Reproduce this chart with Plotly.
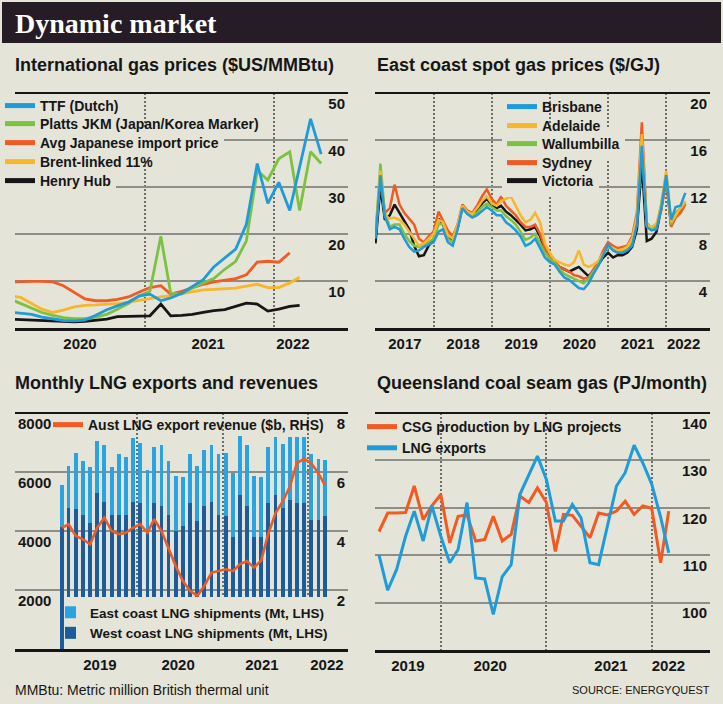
import pandas as pd
import plotly.graph_objects as go

W, H = 723, 704

BG = "#e4e4d8"
HEAD_BG = "#251c25"
GRID = "#8e8e89"
DOTS = "#6f6f6c"
INK = "#161616"
BLUE = "#1e9bd8"
GREEN = "#7dc143"
RED = "#f05a23"
YELLOW = "#f8b62b"
BLACK = "#161616"
EAST_C = "#2aa4e0"
WEST_C = "#1b5c9c"

NARROW = "Liberation Sans Narrow, Arial Narrow, Liberation Sans, sans-serif"
SANS = "Liberation Sans, Arial, sans-serif"
SERIF = "Liberation Serif, Times New Roman, serif"

# ---------------- Panel 1: International gas prices ($US/MMBtu) ----------------
intl_dates = pd.date_range("2019-12-01", "2022-05-01", freq="MS") + pd.Timedelta(days=14)
ttf = [3.4, 3.2, 2.9, 2.3, 1.9, 1.6, 1.5, 1.7, 2.7, 3.9, 4.7, 5.5, 6.8,
       7.2, 5.8, 6.4, 7.4, 8.8, 10.3, 13.0, 15.0, 16.8, 22.0, 35.0, 26.5,
       31.0, 25.0, 34.0, 44.5, 37.0]
jkm = [6.2, 5.2, 4.3, 3.3, 2.7, 2.2, 2.0, 2.0, 2.3, 2.9, 4.0, 5.2, 6.8,
       7.8, 19.5, 7.4, 7.2, 8.5, 9.6, 10.5, 12.5, 14.2, 18.5, 33.5, 31.5,
       36.0, 37.5, 25.0, 37.5, 35.0]
japan_import = [9.8, 9.9, 9.9, 9.9, 9.8, 9.0, 7.6, 6.2, 5.8, 5.8, 6.1, 6.6, 7.6,
                8.6, 9.0, 7.2, 7.8, 8.6, 9.3, 9.8, 10.2, 10.5, 11.3, 14.0, 14.2,
                14.0, 16.0]
brent_linked = [6.9, 6.5, 5.2, 4.0, 3.3, 3.8, 4.5, 4.8, 4.9, 5.0, 5.2, 5.5, 5.9,
                6.3, 6.6, 6.9, 7.3, 7.8, 8.1, 8.2, 8.3, 8.5, 8.9, 9.3, 8.6,
                8.6, 9.6, 10.8]
henry_hub = [1.9, 1.8, 1.7, 1.6, 1.5, 1.3, 1.3, 1.4, 1.6, 1.9, 2.4, 2.5, 2.6,
             2.6, 5.1, 2.6, 2.7, 2.9, 3.3, 3.7, 3.9, 4.6, 5.3, 5.1, 3.6,
             4.0, 4.6, 4.8]
intl_year_lines = ["2020-01-01", "2021-01-01", "2022-01-01"]
intl_label_pos = ["2020-07-01", "2021-06-29", "2022-02-24"]
intl_labels = ["2020", "2021", "2022"]
intl_yticks = [10, 20, 30, 40, 50]

# ---------------- Panel 2: East coast spot gas prices ($/GJ) ----------------
spot_dates = pd.date_range("2017-01-01", "2022-05-01", freq="MS")
brisbane = [7.6, 13.0, 9.5, 8.4, 8.6, 8.4, 7.6, 6.9, 6.5, 6.6, 6.9, 7.1,
            7.3, 8.2, 8.4, 7.3, 7.0, 8.4, 10.2, 9.7, 9.4, 9.6, 10.0, 10.3,
            10.0, 9.6, 9.6, 9.0, 8.7, 8.3, 7.8, 7.0, 7.2, 7.6, 6.8, 6.0,
            5.6, 5.4, 4.8, 4.3, 4.1, 3.7, 3.4, 3.3, 3.8, 4.6, 5.3, 6.2,
            7.1, 6.6, 6.4, 6.4, 6.6, 7.0, 8.8, 15.5, 8.6, 8.3, 8.4, 10.2,
            13.0, 9.2, 10.3, 10.4, 11.5]
adelaide = [8.0, 13.4, 9.6, 9.3, 9.4, 9.2, 8.8, 8.2, 7.6, 7.0, 7.2, 7.6,
            8.0, 9.2, 9.0, 7.9, 7.6, 8.8, 10.4, 9.9, 9.7, 10.2, 10.8, 11.2,
            10.6, 10.4, 10.8, 11.0, 11.2, 10.4, 9.6, 9.0, 9.2, 9.8, 9.0, 7.2,
            6.4, 5.8, 5.6, 5.4, 5.3, 5.6, 6.6, 5.4, 5.2, 5.4, 5.7, 6.4,
            7.0, 6.8, 6.6, 6.7, 6.9, 7.6, 9.5, 16.5, 8.8, 8.6, 8.9, 10.4,
            13.4, 9.0, 9.6, 10.2, 10.8]
wallumbilla = [7.8, 14.0, 9.8, 8.6, 8.8, 8.8, 8.0, 7.4, 7.0, 6.9, 7.1, 7.3,
               7.6, 8.8, 8.9, 7.6, 7.3, 8.6, 10.3, 9.8, 9.6, 9.8, 10.3, 10.6,
               10.3, 10.0, 10.0, 9.5, 9.2, 8.8, 8.2, 7.5, 7.7, 8.0, 7.2, 6.4,
               5.9, 5.6, 5.0, 4.6, 4.4, 4.2, 4.0, 3.8, 4.2, 4.8, 5.4, 6.3,
               6.9, 6.7, 6.5, 6.6, 6.8, 7.3, 9.0, 15.8, 8.7, 8.4, 8.6, 10.6,
               13.2, 8.8, 9.8, 10.2, 10.6]
sydney = [7.9, 12.8, 9.8, 10.2, 12.2, 10.5, 9.8, 9.3, 8.8, 7.6, 7.3, 7.8,
          8.2, 9.9, 9.2, 8.3, 7.8, 8.8, 10.5, 10.0, 9.8, 10.4, 11.2, 11.8,
          11.0, 10.5, 11.2, 10.4, 10.0, 9.6, 9.0, 8.6, 8.6, 8.8, 8.0, 6.8,
          6.0, 5.7, 5.2, 5.0, 4.8, 4.5, 4.4, 4.2, 4.3, 5.0, 5.6, 6.6,
          7.3, 7.0, 6.8, 6.9, 7.0, 7.8, 9.8, 17.5, 8.9, 8.5, 8.7, 10.0,
          12.6, 8.6, 9.4, 9.8, 10.5]
victoria = [7.2, 12.0, 9.2, 9.6, 10.5, 9.8, 9.2, 8.4, 7.0, 6.1, 6.2, 7.0,
            7.5, 9.3, 8.8, 7.8, 7.4, 8.5, 10.3, 9.8, 9.6, 10.0, 10.6, 11.0,
            10.5, 10.2, 10.4, 9.9, 9.6, 9.2, 8.8, 8.3, 8.4, 8.6, 7.8, 6.6,
            5.9, 5.6, 5.2, 5.0, 4.8, 5.0, 5.2, 4.8, 4.4, 4.9, 5.4, 6.0,
            6.4, 6.0, 6.2, 6.2, 6.4, 6.9, 8.4, 14.0, 7.4, 7.6, 8.2, 10.2,
            12.8, 8.7, 9.6, 10.0, 10.6]
spot_year_lines = ["2017-01-01", "2018-01-01", "2019-01-01", "2020-01-01",
                   "2021-01-01", "2022-01-01"]
spot_label_pos = ["2017-07-05", "2018-07-05", "2019-07-05", "2020-07-05",
                  "2021-07-05", "2022-04-20"]
spot_labels = ["2017", "2018", "2019", "2020", "2021", "2022"]
spot_yticks = [4, 8, 12, 16, 20]

# ---------------- Panel 3: Monthly LNG exports and revenues ----------------
lng_dates = pd.date_range("2019-02-01", "2022-03-01", freq="MS") + pd.Timedelta(days=14)
west_coast = [4150, 4780, 4750, 4550, 4270, 5290, 5000, 4550, 4550, 4550,
              5000, 4950, 4040, 4950, 4840, 4550, 3990, 4160, 4950, 4330,
              4840, 5000, 4550, 4500, 3800, 5230, 4840, 3800, 3800, 4950,
              5230, 4780, 5060, 4950, 4950, 4380, 4380, 4500]
east_coast = [1420, 1440, 1900, 1810, 1900, 1750, 1900, 1620, 2060, 1960,
              2160, 2040, 2020, 1890, 2090, 1810, 1870, 1670, 1660, 1860,
              1920, 1930, 2050, 2130, 2180, 1980, 2070, 2050, 2040, 1890,
              1970, 2180, 2140, 2230, 2230, 2220, 2050, 1910]
lng_revenue = [4.11, 4.23, 3.83, 3.72, 3.55, 4.11, 4.45, 4.00, 3.89, 3.94,
               4.11, 4.23, 3.94, 4.40, 4.00, 3.43, 2.81, 2.31, 1.97, 1.80,
               2.14, 2.59, 2.64, 2.70, 2.64, 2.87, 2.98, 2.76, 3.00, 3.90,
               4.60, 5.00, 5.50, 6.30, 6.45, 6.30, 5.95, 5.55]
lng_year_lines = ["2020-01-01", "2021-01-01", "2022-01-01"]
lng_label_pos = ["2019-07-27", "2020-06-25", "2021-06-18", "2022-03-23"]
lng_labels = ["2019", "2020", "2021", "2022"]
lng_left_ticks = [2000, 4000, 6000, 8000]
lng_right_ticks = [2, 4, 6, 8]

# ---------------- Panel 4: Queensland coal seam gas (PJ/month) ----------------
csg_dates = pd.date_range("2019-06-01", "2022-03-01", freq="MS")
csg_production = [115.0, 118.9, 118.9, 119.0, 124.6, 117.5, 120.4, 122.8, 112.6, 118.2,
                  118.5, 113.0, 113.3, 118.2, 113.0, 114.4, 122.5, 121.1, 124.2, 121.1,
                  110.8, 118.6, 118.4, 116.0, 113.7, 118.9, 118.5, 119.3, 121.4, 118.6,
                  120.4, 119.9, 108.4, 119.3]
lng_exports = [110.0, 102.6, 107.0, 114.0, 119.3, 113.0, 120.4, 114.0, 108.4, 111.2,
               121.1, 105.2, 105.0, 97.5, 105.5, 108.0, 122.8, 127.0, 130.9, 126.0,
               117.2, 117.2, 120.7, 117.9, 108.4, 108.0, 116.0, 124.6, 127.4, 133.2,
               129.5, 125.0, 118.0, 110.5]
csg_year_lines = ["2020-01-01", "2021-01-01", "2022-01-01"]
csg_label_pos = ["2019-09-09", "2020-06-20", "2021-08-13", "2022-02-28"]
csg_labels = ["2019", "2020", "2021", "2022"]
csg_yticks = [100, 110, 120, 130, 140]

# ---------------- figure ----------------
fig = go.Figure()


def line(x, y, color, xa, ya, width=2.8):
    fig.add_trace(go.Scatter(x=x, y=y, mode="lines", showlegend=False,
                             line=dict(color=color, width=width),
                             xaxis=xa, yaxis=ya, hoverinfo="skip"))


def key(name, color, legend, xa, ya, width=5):
    fig.add_trace(go.Scatter(x=[None], y=[None], mode="lines", name=name,
                             line=dict(color=color, width=width),
                             legend=legend, xaxis=xa, yaxis=ya, hoverinfo="skip"))


# Panel 1 lines (back to front)
line(intl_dates[:len(henry_hub)], henry_hub, BLACK, "x", "y")
line(intl_dates[:len(brent_linked)], brent_linked, YELLOW, "x", "y")
line(intl_dates[:len(japan_import)], japan_import, RED, "x", "y")
line(intl_dates[:len(jkm)], jkm, GREEN, "x", "y")
line(intl_dates[:len(ttf)], ttf, BLUE, "x", "y")

# Panel 2 lines
line(spot_dates, victoria, BLACK, "x2", "y2", 2.5)
line(spot_dates, sydney, RED, "x2", "y2", 2.5)
line(spot_dates, wallumbilla, GREEN, "x2", "y2", 2.5)
line(spot_dates, adelaide, YELLOW, "x2", "y2", 2.5)
line(spot_dates, brisbane, BLUE, "x2", "y2", 2.5)

# Panel 3 bars + revenue
fig.add_trace(go.Bar(x=lng_dates, y=west_coast, name="West coast LNG shipments (Mt, LHS)",
                     marker=dict(color=WEST_C, line=dict(width=0)), legend="legend11",
                     xaxis="x3", yaxis="y3", hoverinfo="skip"))
fig.add_trace(go.Bar(x=lng_dates, y=east_coast, name="East coast LNG shipments (Mt, LHS)",
                     marker=dict(color=EAST_C, line=dict(width=0)), legend="legend11",
                     xaxis="x3", yaxis="y3", hoverinfo="skip"))
line(lng_dates, lng_revenue, RED, "x3", "y4", 2.6)

# Panel 4 lines
line(csg_dates, csg_production, RED, "x4", "y5", 3.0)
line(csg_dates, lng_exports, BLUE, "x4", "y5", 3.0)

# legend keys (opaque ones first so later text stays on top)
key("Avg Japanese import price", RED, "legend", "x", "y")
key("Henry Hub", BLACK, "legend2", "x", "y")
key("TTF (Dutch)", BLUE, "legend3", "x", "y")
key("Platts JKM (Japan/Korea Marker)", GREEN, "legend4", "x", "y")
key("Brent-linked 11%", YELLOW, "legend5", "x", "y")
key("Wallumbilla", GREEN, "legend6", "x2", "y2")
key("Victoria", BLACK, "legend7", "x2", "y2")
key("Brisbane", BLUE, "legend8", "x2", "y2")
key("Adelaide", YELLOW, "legend9", "x2", "y2")
key("Sydney", RED, "legend10", "x2", "y2")
key("Aust LNG export revenue ($b, RHS)", RED, "legend12", "x3", "y4")
key("CSG production by LNG projects", RED, "legend13", "x4", "y5")
key("LNG exports", BLUE, "legend13", "x4", "y5")


def leg(x_px, y_px, opaque, size=14, yanchor="middle", order="normal", indent=0):
    return dict(x=x_px / W, y=1 - y_px / H, xanchor="left", yanchor=yanchor,
                bgcolor=BG if opaque else "rgba(0,0,0,0)", borderwidth=0,
                traceorder=order, indentation=indent,
                font=dict(family=NARROW, size=size, color=INK, weight="bold"))


def xaxis(domain, rng, lines, pos, labels, anchor):
    return dict(domain=domain, range=rng, anchor=anchor, type="date",
                showgrid=False, zeroline=False,
                showline=True, linecolor=BLACK, linewidth=3,
                tickmode="array", tickvals=pos, ticktext=labels, ticks="",
                tickfont=dict(family=SANS, size=15, color=INK, weight="bold"),
                minor=dict(tickmode="array", tickvals=lines, showgrid=True,
                           gridcolor=DOTS, gridwidth=2, griddash="2px,2px", ticks=""),
                fixedrange=True)


def yaxis(domain, rng, ticks, side, anchor, grid=True, overlaying=None):
    d = dict(domain=domain, range=rng, anchor=anchor, side=side,
             tickmode="array", tickvals=ticks, ticks="",
             ticklabelposition="inside bottom",
             tickfont=dict(family=SANS, size=15, color=INK, weight="bold"),
             showgrid=grid, gridcolor=GRID, gridwidth=2,
             zeroline=False, showline=False, fixedrange=True)
    if overlaying:
        d["overlaying"] = overlaying
    return d


XL = [15 / W, 348 / W]
XR = [375 / W, 710 / W]
YT = [1 - 328 / H, 1 - 93 / H]
YB = [1 - 649 / H, 1 - 413 / H]

layout = dict(
    width=W, height=H, margin=dict(l=0, r=0, t=0, b=0),
    paper_bgcolor=BG, plot_bgcolor=BG, barmode="stack", bargap=0.42,
    hovermode=False,
    xaxis=xaxis(XL, ["2019-12-30", "2022-07-30"], intl_year_lines, intl_label_pos, intl_labels, "y"),
    yaxis=yaxis(YT, [0, 50], intl_yticks, "right", "x"),
    xaxis2=xaxis(XR, ["2016-12-29", "2022-10-03"], spot_year_lines, spot_label_pos, spot_labels, "y2"),
    yaxis2=yaxis(YT, [0, 20], spot_yticks, "right", "x2"),
    xaxis3=xaxis(XL, ["2018-07-29", "2022-06-21"], lng_year_lines, lng_label_pos, lng_labels, "y3"),
    yaxis3=yaxis(YB, [0, 8000], lng_left_ticks, "left", "x3"),
    yaxis4=yaxis(YB, [0, 8], lng_right_ticks, "right", "x3", grid=False, overlaying="y3"),
    xaxis4=xaxis(XR, ["2019-05-18", "2022-07-22"], csg_year_lines, csg_label_pos, csg_labels, "y5"),
    yaxis5=yaxis([1 - 650 / H, 1 - 413 / H], [90, 140], csg_yticks, "right", "x4"),
    legend=leg(0, 143, True),
    legend2=leg(0, 181, True),
    legend3=leg(0, 106, False),
    legend4=leg(0, 124, False),
    legend5=leg(0, 162, False),
    legend6=leg(502, 144, True),
    legend7=leg(502, 181, True),
    legend8=leg(502, 107, False),
    legend9=leg(502, 126, False),
    legend10=leg(502, 163, False),
    legend11=leg(65, 649, True, size=13.5, yanchor="bottom", order="reversed", indent=-15),
    legend12=leg(48, 425, False, size=14),
    legend13=leg(362, 411, False, size=14, yanchor="top"),
)
fig.update_layout(**layout)

shapes = [dict(type="rect", xref="paper", yref="paper", x0=2 / W, x1=1 - 2 / W,
               y0=1 - 43 / H, y1=1 - 2 / H, fillcolor=HEAD_BG, line=dict(width=0),
               layer="below")]
for xa, ya in [("x", "y"), ("x2", "y2"), ("x3", "y3"), ("x4", "y5")]:
    shapes.append(dict(type="line", xref=f"{xa} domain", yref=f"{ya} domain",
                       x0=0, x1=1, y0=1, y1=1, line=dict(color=BLACK, width=2),
                       layer="above"))
fig.update_layout(shapes=shapes)

TITLE_FONT = dict(family=NARROW, size=18, color=INK, weight="bold")
ann = [
    dict(text="Dynamic market", x=13 / W, y=1 - 23 / H,
         font=dict(family=SERIF, size=28, color="white", weight="bold")),
    dict(text="International gas prices ($US/MMBtu)", x=13 / W, y=1 - 65 / H, font=TITLE_FONT),
    dict(text="East coast spot gas prices ($/GJ)", x=375 / W, y=1 - 65 / H, font=TITLE_FONT),
    dict(text="Monthly LNG exports and revenues", x=13 / W, y=1 - 383 / H, font=TITLE_FONT),
    dict(text="Queensland coal seam gas (PJ/month)", x=375 / W, y=1 - 383 / H, font=TITLE_FONT),
    dict(text="MMBtu: Metric million British thermal unit", x=13 / W, y=1 - 690 / H,
         font=dict(family=NARROW, size=14, color=INK)),
    dict(text="SOURCE: ENERGYQUEST", x=712 / W, y=1 - 690 / H, xanchor="right",
         font=dict(family=NARROW, size=11, color=INK)),
]
for a in ann:
    a.setdefault("xanchor", "left")
    fig.add_annotation(xref="paper", yref="paper", yanchor="middle", showarrow=False, **a)

fig.write_html(
    "out.html",
    config={"displayModeBar": False, "staticPlot": True},
    post_script="document.body.style.margin='0px';document.body.style.overflow='hidden';"
                "document.documentElement.style.background='" + BG + "';",
)
